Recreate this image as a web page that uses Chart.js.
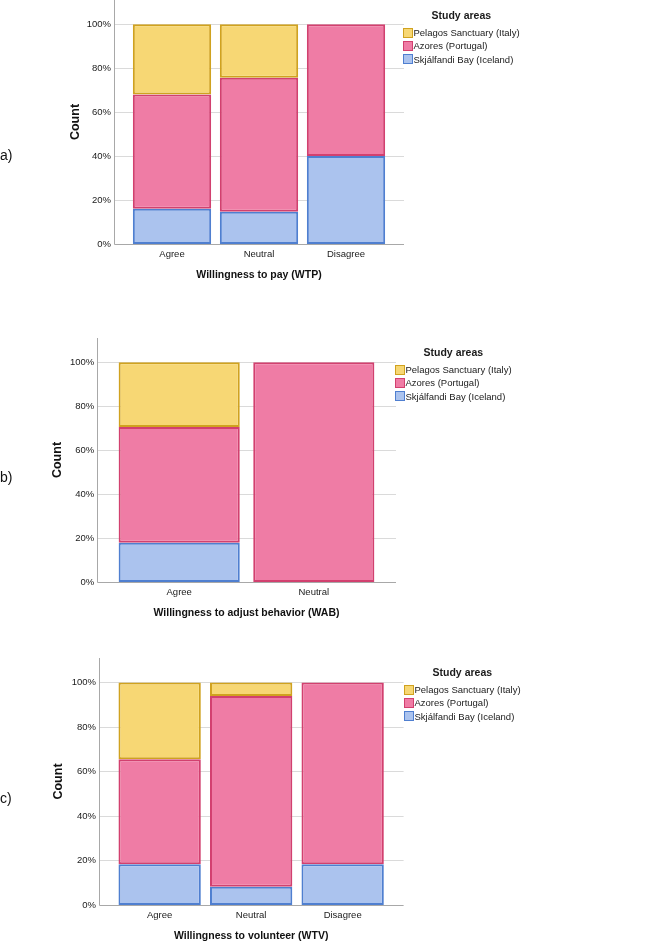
<!DOCTYPE html>
<html>
<head>
<meta charset="utf-8">
<script src="https://cdn.jsdelivr.net/npm/chart.js@4.4.0/dist/chart.umd.min.js"></script>
<style>
  body { margin: 0; background: #fff; }
  #page { position: relative; width: 653px; height: 944px; overflow: hidden; font-family: 'Liberation Sans', Arial, sans-serif; }
  canvas { position: absolute; left: 0; }
  .tag { position: absolute; left: 0; font-size: 14px; line-height: 16px; color: #111; }
  .legend { position: absolute; color: #1a1a1a; font-size: 9.5px; white-space: nowrap; }
  .legend .ttl { font-weight: bold; font-size: 10.5px; line-height: 14px; text-align: center; margin-bottom: 4px; }
  .legend .row { height: 13.3px; line-height: 13.3px; display: flex; align-items: center; }
  .legend .box { width: 9.5px; height: 10px; box-sizing: border-box; border: 1.5px solid; margin-right: 1px; }
</style>
</head>
<body>
<div id="page"></div>
<script>
// series, bottom to top of each stack
const seriesNames = ['Skjálfandi Bay (Iceland)', 'Azores (Portugal)', 'Pelagos Sanctuary (Italy)'];
const fillColors = ['#abc3ee', '#ef7ca5', '#f7d774'];
const lineColors = ['#4f7fd0', '#d2406f', '#d0a21f'];

// a) willingness to pay
const wtpLabels = ['Agree', 'Neutral', 'Disagree'];
const wtpIceland = [16.0, 14.7, 40.0];
const wtpAzores = [52.0, 60.9, 60.0];
const wtpPelagos = [32.0, 24.4, 0];

// b) willingness to adjust behavior
const wabLabels = ['Agree', 'Neutral'];
const wabIceland = [17.8, 0];
const wabAzores = [52.7, 100];
const wabPelagos = [29.5, 0];

// c) willingness to volunteer
const wtvLabels = ['Agree', 'Neutral', 'Disagree'];
const wtvIceland = [18.3, 8.2, 18.3];
const wtvAzores = [47.2, 85.7, 81.7];
const wtvPelagos = [34.5, 6.1, 0];

const yTicks = [0, 20, 40, 60, 80, 100];

const page = document.getElementById('page');
const FONT = "'Liberation Sans', Arial, sans-serif";

// grid lines and axis lines reach a little past the bars, like the original
const frame = {
    id: 'frame',
    beforeDatasetsDraw(chart, args, opts) {
        const { ctx, chartArea: a, scales: { y } } = chart;
        const x0 = Math.round(a.left - opts.pad) + 0.5;
        const x1 = a.right + opts.pad;
        ctx.save();
        ctx.lineWidth = 1;
        ctx.strokeStyle = '#dadada';
        yTicks.forEach(v => {
            if (v === 0) return;
            const py = Math.round(y.getPixelForValue(v)) + 0.5;
            ctx.beginPath();
            ctx.moveTo(x0, py);
            ctx.lineTo(x1, py);
            ctx.stroke();
        });
        ctx.strokeStyle = '#a8a8a8';
        const by = Math.round(y.getPixelForValue(0)) + 0.5;
        ctx.beginPath();
        ctx.moveTo(x0, a.top);
        ctx.lineTo(x0, by);
        ctx.lineTo(x1, by);
        ctx.stroke();
        ctx.restore();
    }
};

function addTag(text, cy) {
    const d = document.createElement('div');
    d.className = 'tag';
    d.style.top = (cy - 8) + 'px';
    d.textContent = text;
    page.appendChild(d);
}

function addLegend(left, titleY) {
    const d = document.createElement('div');
    d.className = 'legend';
    d.style.left = left + 'px';
    d.style.top = (titleY - 7) + 'px';
    let html = '<div class="ttl">Study areas</div>';
    for (let i = seriesNames.length - 1; i >= 0; i--) {
        html += '<div class="row"><span class="box" style="background:' + fillColors[i] +
            ';border-color:' + lineColors[i] + '"></span>' + seriesNames[i] + '</div>';
    }
    d.innerHTML = html;
    page.appendChild(d);
}

function makeChart(labels, iceland, azores, pelagos, xTitle, g) {
    const canvas = document.createElement('canvas');
    const h = g.plotH + 46;
    canvas.width = 653;
    canvas.height = h;
    canvas.style.top = g.top + 'px';
    page.appendChild(canvas);

    const values = [iceland, azores, pelagos];
    new Chart(canvas.getContext('2d'), {
        type: 'bar',
        data: {
            labels: labels,
            datasets: values.map((v, i) => ({
                label: seriesNames[i],
                data: v,
                backgroundColor: fillColors[i],
                borderColor: lineColors[i],
                borderWidth: 2,
                borderSkipped: false,
                barPercentage: 0.9,
                categoryPercentage: 1.0
            }))
        },
        options: {
            responsive: false,
            animation: false,
            devicePixelRatio: 1,
            layout: { padding: { left: 0, top: 0, bottom: 0, right: 653 - g.right } },
            plugins: {
                legend: { display: false },
                tooltip: { enabled: false },
                frame: { pad: g.left - g.axisX }
            },
            scales: {
                x: {
                    stacked: true,
                    grid: { display: false, drawTicks: false },
                    border: { display: false },
                    ticks: { color: '#1a1a1a', font: { family: FONT, size: 9.5 }, padding: 5, maxRotation: 0 },
                    title: {
                        display: true, text: xTitle, color: '#111',
                        font: { family: FONT, size: 10.5, weight: 'bold' },
                        padding: { top: 0, bottom: 8.2 }
                    },
                    afterFit: s => { s.height = 46; s.paddingLeft = 0; s.paddingRight = 0; }
                },
                y: {
                    stacked: true,
                    min: 0,
                    max: 111,
                    grid: { display: false, drawTicks: false },
                    border: { display: false },
                    ticks: {
                        stepSize: 20,
                        includeBounds: false,
                        color: '#1a1a1a',
                        font: { family: FONT, size: 9.5 },
                        padding: g.left - g.labelEnd,
                        callback: v => (v <= 100 ? v + '%' : '')
                    },
                    title: {
                        display: true, text: 'Count', color: '#111',
                        font: { family: FONT, size: 12.5, weight: 'bold' },
                        padding: { top: g.countX - 7.5, bottom: 0 }
                    },
                    afterFit: s => { s.width = g.left; s.paddingTop = 0; s.paddingBottom = 0; }
                }
            }
        },
        plugins: [frame]
    });
}

makeChart(wtpLabels, wtpIceland, wtpAzores, wtpPelagos, 'Willingness to pay (WTP)',
    { top: 0, plotH: 244, axisX: 114, left: 128.5, right: 389.5, labelEnd: 111, countX: 76 });
makeChart(wabLabels, wabIceland, wabAzores, wabPelagos, 'Willingness to adjust behavior (WAB)',
    { top: 338, plotH: 244.3, axisX: 97, left: 111.9, right: 381.1, labelEnd: 94.3, countX: 58 });
makeChart(wtvLabels, wtvIceland, wtvAzores, wtvPelagos, 'Willingness to volunteer (WTV)',
    { top: 658, plotH: 247, axisX: 98.7, left: 113.9, right: 388.4, labelEnd: 96, countX: 58.3 });

addTag('a)', 155);
addTag('b)', 477);
addTag('c)', 798);

addLegend(403, 15);
addLegend(395, 352);
addLegend(404, 672);
</script>
</body>
</html>
